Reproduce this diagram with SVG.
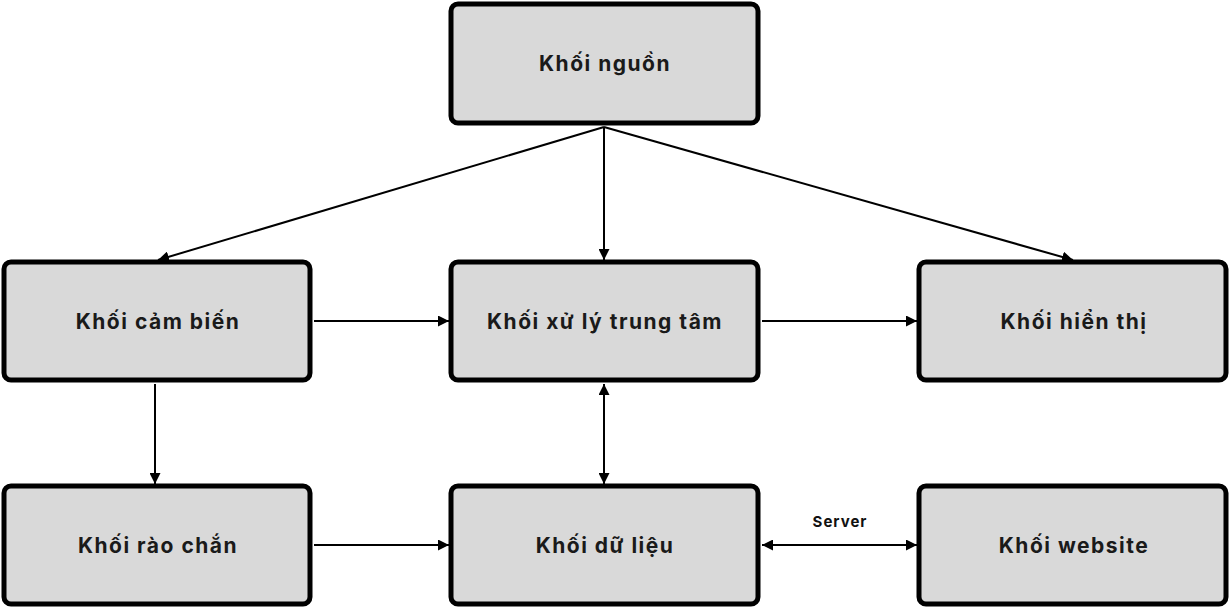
<svg xmlns="http://www.w3.org/2000/svg" width="1231" height="609" viewBox="0 0 1231 609">
<style>
.box{fill:#d9d9d9;stroke:#000;stroke-width:5}
.lbl{font-family:"Inter","Open Sans",sans-serif;font-weight:700;font-size:21px;letter-spacing:1.5px;fill:#1a1a1a;text-anchor:middle;dominant-baseline:central}
.ln{stroke:#000;stroke-width:2;fill:none}
.sm{font-family:"Inter","Open Sans",sans-serif;font-weight:700;font-size:15px;letter-spacing:1px;fill:#111;text-anchor:middle}
</style>
<defs>
<marker id="ah" viewBox="0 0 10 10" refX="10" refY="5" markerWidth="5.5" markerHeight="5.5" orient="auto-start-reverse" markerUnits="strokeWidth">
<path d="M0,0 L10,5 L0,10 z" fill="#000"/>
</marker>
</defs>
<rect width="1231" height="609" fill="#fff"/>
<g id="connectors">
<line class="ln" x1="604" y1="127" x2="158" y2="260" marker-end="url(#ah)"/>
<line class="ln" x1="604" y1="127" x2="604" y2="260" marker-end="url(#ah)"/>
<line class="ln" x1="604" y1="127" x2="1073" y2="260" marker-end="url(#ah)"/>
<line class="ln" x1="314" y1="321" x2="449" y2="321" marker-end="url(#ah)"/>
<line class="ln" x1="762" y1="321" x2="917" y2="321" marker-end="url(#ah)"/>
<line class="ln" x1="155" y1="384" x2="155" y2="484" marker-end="url(#ah)"/>
<line class="ln" x1="314" y1="545" x2="449" y2="545" marker-end="url(#ah)"/>
<line class="ln" x1="604" y1="384" x2="604" y2="484" marker-start="url(#ah)" marker-end="url(#ah)"/>
<line class="ln" x1="762" y1="545" x2="917" y2="545" marker-start="url(#ah)" marker-end="url(#ah)"/>
<text class="sm" x="840" y="527">Server</text>
</g>
<g id="nguon"><rect class="box" x="451" y="4" width="307" height="119" rx="7"/><text class="lbl" x="605" y="63">Khối nguồn</text></g>
<g id="cambien"><rect class="box" x="4" y="262" width="306" height="118" rx="7"/><text class="lbl" x="158" y="321">Khối cảm biến</text></g>
<g id="xuly"><rect class="box" x="451" y="262" width="307" height="118" rx="7"/><text class="lbl" x="605" y="321">Khối xử lý trung tâm</text></g>
<g id="hienthi"><rect class="box" x="919" y="262" width="307" height="118" rx="7"/><text class="lbl" x="1074" y="321">Khối hiển thị</text></g>
<g id="raochan"><rect class="box" x="4" y="486" width="306" height="118" rx="7"/><text class="lbl" x="158" y="545">Khối rào chắn</text></g>
<g id="dulieu"><rect class="box" x="451" y="486" width="307" height="118" rx="7"/><text class="lbl" x="605" y="545">Khối dữ liệu</text></g>
<g id="website"><rect class="box" x="919" y="486" width="307" height="118" rx="7"/><text class="lbl" x="1074" y="545">Khối website</text></g>
</svg>
